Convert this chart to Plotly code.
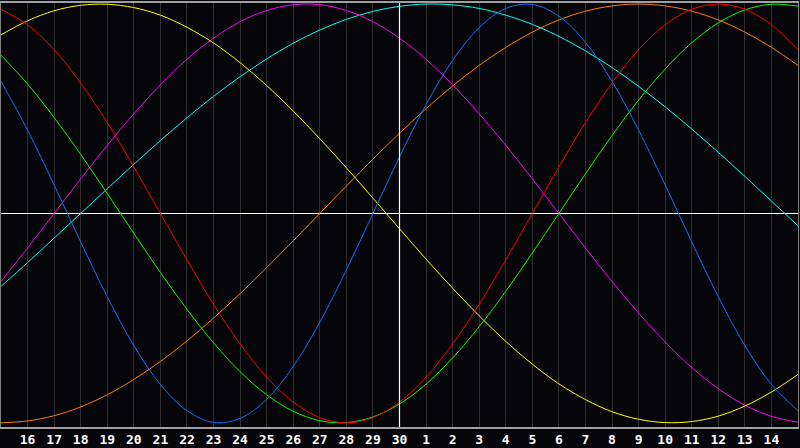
import plotly.graph_objects as go

# day labels under the grid (15th .. 15th of next month)
DAY_LABELS = ['15', '16', '17', '18', '19', '20', '21', '22', '23', '24',
              '25', '26', '27', '28', '29', '30', '1', '2', '3', '4', '5',
              '6', '7', '8', '9', '10', '11', '12', '13', '14', '15']
TODAY = '30'

# one value per day for each cycle (-1 .. 1)
physical = [0.631, 0.398, 0.136, -0.136, -0.398, -0.631, -0.817, -0.942,
            -0.998, -0.979, -0.888, -0.731, -0.520, -0.270, 0.0, 0.270,
            0.520, 0.731, 0.888, 0.979, 0.998, 0.942, 0.817, 0.631, 0.398,
            0.136, -0.136, -0.398, -0.631, -0.817, -0.942]
emotional = [0.975, 0.901, 0.782, 0.623, 0.434, 0.222, 0.0, -0.222, -0.434,
             -0.623, -0.782, -0.901, -0.975, -1.0, -0.975, -0.901, -0.782,
             -0.623, -0.434, -0.222, 0.0, 0.222, 0.434, 0.623, 0.782, 0.901,
             0.975, 1.0, 0.975, 0.901, 0.782]
intellectual = [0.756, 0.618, 0.458, 0.282, 0.095, -0.095, -0.282, -0.458,
                -0.618, -0.756, -0.866, -0.945, -0.990, -0.999, -0.972,
                -0.910, -0.815, -0.690, -0.541, -0.372, -0.189, 0.0, 0.189,
                0.372, 0.541, 0.690, 0.815, 0.910, 0.972, 0.999, 0.990]
intuitive = [-0.325, -0.165, 0.0, 0.165, 0.325, 0.476, 0.614, 0.736, 0.837,
             0.916, 0.969, 0.997, 0.997, 0.969, 0.916, 0.837, 0.736, 0.614,
             0.476, 0.325, 0.165, 0.0, -0.165, -0.325, -0.476, -0.614,
             -0.736, -0.837, -0.916, -0.969, -0.997]
aesthetic = [0.853, 0.920, 0.968, 0.994, 0.999, 0.983, 0.947, 0.889, 0.814,
             0.720, 0.611, 0.489, 0.357, 0.218, 0.073, -0.073, -0.218,
             -0.357, -0.489, -0.611, -0.720, -0.814, -0.889, -0.947, -0.983,
             -0.999, -0.994, -0.968, -0.920, -0.853, -0.769]
awareness = [-1.0, -0.991, -0.966, -0.924, -0.866, -0.793, -0.707, -0.609,
             -0.5, -0.383, -0.259, -0.131, 0.0, 0.131, 0.259, 0.383, 0.5,
             0.609, 0.707, 0.793, 0.866, 0.924, 0.966, 0.991, 1.0, 0.991,
             0.966, 0.924, 0.866, 0.793, 0.707]
spiritual = [-0.348, -0.235, -0.118, 0.0, 0.118, 0.235, 0.348, 0.457, 0.559,
             0.653, 0.738, 0.813, 0.876, 0.927, 0.965, 0.989, 1.0, 0.996,
             0.979, 0.947, 0.903, 0.846, 0.776, 0.697, 0.607, 0.509, 0.403,
             0.292, 0.177, 0.059, -0.059]

series = [
    (awareness, '#ff8000'),
    (spiritual, '#00ffff'),
    (intuitive, '#ff00ff'),
    (aesthetic, '#ffff00'),
    (intellectual, '#00ff00'),
    (emotional, '#ff0000'),
    (physical, '#1070ff'),
]

BG = '#060509'
days = list(range(len(DAY_LABELS)))

fig = go.Figure()
for values, color in series:
    fig.add_trace(go.Scatter(x=days, y=values, mode='lines',
                             line=dict(color=color, width=1, shape='spline'),
                             hoverinfo='skip'))

# today marker
fig.add_vline(x=DAY_LABELS.index(TODAY), line=dict(color='white', width=1.2))

fig.update_xaxes(range=[0, len(DAY_LABELS) - 1],
                 tickvals=days[1:-1], ticktext=DAY_LABELS[1:-1],
                 showgrid=True, gridcolor='#303030', gridwidth=1,
                 zeroline=False, ticks='',
                 showline=True, linecolor='#a0a0a0', linewidth=1.5,
                 mirror=True,
                 tickfont=dict(family='DejaVu Sans Mono', size=13,
                               color='white', weight='bold'))
fig.update_yaxes(range=[-1.02, 1.005], showgrid=False, showticklabels=False,
                 zeroline=True, zerolinecolor='white', zerolinewidth=1.2,
                 showline=True, linecolor='#808080', linewidth=1,
                 mirror=True, ticks='')

fig.update_layout(width=800, height=448,
                  margin=dict(l=1, r=1, t=1, b=20),
                  paper_bgcolor=BG, plot_bgcolor=BG,
                  showlegend=False)

fig.write_html("out.html", config={'displayModeBar': False},
               post_script="document.body.style.margin='0';"
                           "document.body.style.overflow='hidden';"
                           f"document.body.style.background='{BG}';")
